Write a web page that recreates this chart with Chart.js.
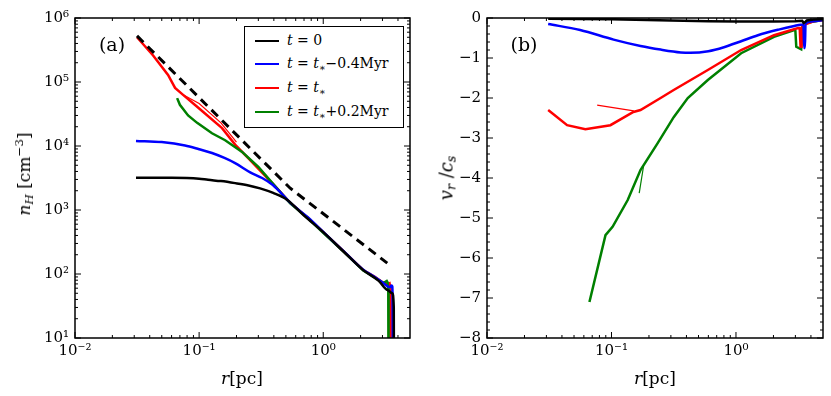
<!DOCTYPE html>
<html lang="en">
<head>
<meta charset="UTF-8" />
<title>Density and velocity profiles</title>
<style>
  * { box-sizing: border-box; margin: 0; padding: 0; }
  body { background: #fff; width: 831px; height: 396px; overflow: hidden; font-family: 'DejaVu Serif', serif; }
  #wrap { position: relative; width: 831px; height: 396px; }
  canvas { position: absolute; top: 0; }
  .lbl { position: absolute; color: #000; white-space: nowrap; font-family: 'DejaVu Serif', serif; }
  .rot { transform: translate(-50%, -50%) rotate(-90deg); }
  .ctr { transform: translate(-50%, -50%); }
  #legend { position: absolute; left: 244px; top: 26px; width: 160px; height: 102px;
            border: 1.5px solid #000; background: #fff; }
  .row { position: absolute; left: 0; width: 157px; height: 20px; }
  .row span.ln { position: absolute; left: 10px; top: 10px; width: 24px; height: 1.5px; }
  .row span.tx { position: absolute; left: 42px; top: 0; font-size: 14px; line-height: 20px; white-space: nowrap; }
  sub { font-size: 70%; vertical-align: -3px; line-height: 0; }
  sup { font-size: 70%; vertical-align: 7px; line-height: 0; }
</style>
<script src="https://cdn.jsdelivr.net/npm/chart.js"></script>
</head>
<body>
<div id="wrap">
  <canvas id="densChart" width="415" height="396" style="left:0"></canvas>
  <canvas id="velChart" width="416" height="396" style="left:415px"></canvas>

  <div class="lbl ctr" style="left:112px;top:44px;font-size:19px">(a)</div>
  <div class="lbl ctr" style="left:524px;top:44px;font-size:19px">(b)</div>

  <div class="lbl rot" style="left:24px;top:174px;font-size:17px"><i>n</i><sub><i>H</i></sub> [cm<sup>−3</sup>]</div>
  <div class="lbl rot" style="left:446px;top:178px;font-size:18px"><i>v</i><sub><i>r</i></sub> /<i>c</i><sub><i>s</i></sub></div>
  <div class="lbl ctr" style="left:242px;top:378px;font-size:17px"><i>r</i>[pc]</div>
  <div class="lbl ctr" style="left:655px;top:378px;font-size:17px"><i>r</i>[pc]</div>

  <div id="legend">
    <div class="row" style="top:3px"><span class="ln" style="background:#000"></span><span class="tx"><i>t</i> = 0</span></div>
    <div class="row" style="top:26px"><span class="ln" style="background:#0000ff"></span><span class="tx"><i>t</i> = <i>t</i><sub>∗</sub>−0.4Myr</span></div>
    <div class="row" style="top:50px"><span class="ln" style="background:#ff0000"></span><span class="tx"><i>t</i> = <i>t</i><sub>∗</sub></span></div>
    <div class="row" style="top:74px"><span class="ln" style="background:#008000"></span><span class="tx"><i>t</i> = <i>t</i><sub>∗</sub>+0.2Myr</span></div>
  </div>
</div>

<script>
  // ---- panel (a): n_H(r) ----
  const r_t0   = [0.031, 0.06, 0.1, 0.118, 0.15, 0.195, 0.25, 0.31, 0.395, 0.51, 0.7, 1.0, 1.5, 2.1, 2.8, 3.3, 3.6, 3.7, 3.72];
  const nH_t0  = [3200, 3190, 3080, 2960, 2830, 2630, 2420, 2180, 1850, 1450, 820, 450, 213, 115, 78, 56, 50, 30, 1];

  const r_m04  = [0.031, 0.05, 0.077, 0.1, 0.127, 0.16, 0.195, 0.258, 0.322, 0.388, 0.45, 0.542, 0.75, 1.0, 1.5, 2.1, 2.6, 3.05, 3.45, 3.55, 3.6, 3.62, 3.65];
  const nH_m04 = [1.2e4, 1.15e4, 1.02e4, 8900, 7760, 6500, 5400, 3880, 3160, 2500, 1900, 1300, 770, 455, 216, 117, 90, 72, 62, 66, 64, 40, 1];

  const r_ts   = [0.0316, 0.0426, 0.0562, 0.064, 0.0743, 0.0964, 0.153, 0.195, 0.267, 0.388, 0.542, 0.75, 1.0, 1.5, 2.1, 2.6, 3.05, 3.3, 3.42, 3.47, 3.49];
  const nH_ts  = [5.0e5, 2.6e5, 1.29e5, 8.1e4, 6.3e4, 4.1e4, 1.9e4, 1.05e4, 5620, 2630, 1290, 760, 450, 215, 115, 90, 73, 70, 72, 60, 1];
  const r_tsB  = [0.0743, 0.1, 0.15, 0.2];
  const nH_tsB = [6.3e4, 4.6e4, 2.3e4, 1.15e4];

  const r_p02  = [0.0665, 0.07, 0.0815, 0.0964, 0.127, 0.162, 0.222, 0.3, 0.388, 0.542, 0.75, 1.0, 1.5, 2.1, 2.6, 3.05, 3.25, 3.3, 3.34, 3.36];
  const nH_p02 = [5.6e4, 4.4e4, 3.0e4, 2.3e4, 1.58e4, 1.23e4, 8100, 4700, 2650, 1270, 750, 440, 212, 113, 88, 72, 78, 74, 60, 1];

  const r_fit  = [0.0316, 0.542, 3.28];
  const nH_fit = [5.25e5, 2190, 148];

  // ---- panel (b): v_r/c_s(r) ----
  const r_v0  = [0.031, 0.1, 0.3, 0.6, 1.0, 2.0, 3.0, 3.4, 3.5, 3.6, 3.7, 4.2, 5.0];
  const v_v0  = [-0.02, -0.03, -0.06, -0.08, -0.09, -0.09, -0.08, -0.07, -0.12, -0.1, -0.06, -0.04, -0.03];

  const r_vm04 = [0.031, 0.056, 0.104, 0.171, 0.248, 0.36, 0.43, 0.6, 0.8, 1.1, 1.5, 2.2, 2.94, 3.3, 3.48, 3.53, 3.58, 3.62, 4.2, 5.0];
  const v_vm04 = [-0.15, -0.3, -0.54, -0.7, -0.79, -0.86, -0.87, -0.83, -0.73, -0.58, -0.43, -0.29, -0.2, -0.17, -0.17, -0.75, -0.75, -0.13, -0.08, -0.05];

  const r_vts  = [0.031, 0.044, 0.0617, 0.098, 0.15, 0.171, 0.248, 0.316, 0.594, 1.1, 2.02, 3.16, 3.25, 3.3, 3.36, 3.42, 4.2, 5.0];
  const v_vts  = [-2.3, -2.68, -2.78, -2.68, -2.35, -2.3, -2.0, -1.8, -1.3, -0.8, -0.43, -0.25, -0.25, -0.72, -0.72, -0.18, -0.08, -0.05];
  const r_vtsB = [0.0767, 0.151];
  const v_vtsB = [-2.18, -2.32];

  const r_vp02 = [0.0665, 0.0895, 0.102, 0.135, 0.171, 0.235, 0.316, 0.41, 0.594, 1.1, 2.02, 2.94, 3.0, 3.05, 3.34, 3.42, 3.5, 4.0, 5.0];
  const v_vp02 = [-7.1, -5.43, -5.22, -4.55, -3.8, -3.13, -2.48, -2.0, -1.55, -0.88, -0.47, -0.3, -0.32, -0.72, -0.78, -0.2, -0.15, -0.1, -0.05];
  const r_vp02B = [0.167, 0.181];
  const v_vp02B = [-4.38, -3.7];

  // ticks
  const xTickVals = [0.01, 0.1, 1];
  const xTickText = ['10⁻²', '10⁻¹', '10⁰'];
  const nTickVals = [10, 100, 1e3, 1e4, 1e5, 1e6];
  const nTickText = ['10¹', '10²', '10³', '10⁴', '10⁵', '10⁶'];
  const vTickVals = [-8, -7, -6, -5, -4, -3, -2, -1, 0];
  const vTickText = ['−8', '−7', '−6', '−5', '−4', '−3', '−2', '−1', '0'];

  const pts = (xs, ys) => xs.map((x, i) => ({ x: x, y: ys[i] }));
  const line = (xs, ys, color, w, dash, smooth) => ({
    data: pts(xs, ys), borderColor: color, borderWidth: w, borderDash: dash || [],
    pointRadius: 0, fill: false, tension: 0,
    cubicInterpolationMode: smooth ? 'monotone' : 'default'
  });

  const tickFont = { family: 'DejaVu Serif', size: 15 };

  function logMinor(min, max) {
    const out = [];
    for (let d = Math.floor(Math.log10(min)); d <= Math.ceil(Math.log10(max)); d++) {
      for (let k = 2; k <= 9; k++) {
        const v = k * Math.pow(10, d);
        if (v > min && v < max) out.push(v);
      }
    }
    return out;
  }

  // frame with inward ticks on all four sides
  const framePlugin = {
    id: 'frame',
    afterDatasetsDraw(chart, args, opts) {
      const { ctx, chartArea: a, scales } = chart;
      const sx = scales.x, sy = scales.y;
      ctx.save();
      ctx.strokeStyle = '#000';
      ctx.lineWidth = 1;
      const tick = (px, len, vertical) => {
        ctx.beginPath();
        if (vertical) {
          ctx.moveTo(px, a.bottom); ctx.lineTo(px, a.bottom - len);
          ctx.moveTo(px, a.top); ctx.lineTo(px, a.top + len);
        } else {
          ctx.moveTo(a.left, px); ctx.lineTo(a.left + len, px);
          ctx.moveTo(a.right, px); ctx.lineTo(a.right - len, px);
        }
        ctx.stroke();
      };
      xTickVals.forEach(v => tick(sx.getPixelForValue(v), 6, true));
      logMinor(sx.min, sx.max).forEach(v => tick(sx.getPixelForValue(v), 3, true));
      opts.yMajor.forEach(v => tick(sy.getPixelForValue(v), 6, false));
      opts.yMinor.forEach(v => tick(sy.getPixelForValue(v), 3, false));
      ctx.lineWidth = 1.5;
      ctx.strokeRect(a.left, a.top, a.right - a.left, a.bottom - a.top);
      ctx.restore();
    }
  };

  function xScale() {
    return {
      type: 'logarithmic', min: 0.01, max: 5,
      afterBuildTicks: s => { s.ticks = xTickVals.map(v => ({ value: v })); },
      afterFit: s => { s.height = 58; },
      ticks: { callback: (v, i) => xTickText[i], font: tickFont, color: '#000', padding: 4, maxRotation: 0, autoSkip: false },
      grid: { display: false, drawTicks: false, tickLength: 0 },
      border: { display: false }
    };
  }

  new Chart(document.getElementById('densChart'), {
    type: 'line',
    data: {
      datasets: [
        line(r_fit, nH_fit, '#000', 3, [9, 6]),
        line(r_t0, nH_t0, '#000', 2.5, null, true),
        line(r_m04, nH_m04, '#0000ff', 2.5, null, true),
        line(r_p02, nH_p02, '#008000', 2.5),
        line(r_ts, nH_ts, '#ff0000', 2.5),
        line(r_tsB, nH_tsB, '#ff0000', 1.2)
      ]
    },
    options: {
      responsive: false, animation: false,
      layout: { padding: { top: 18, right: 5, left: 0, bottom: 0 } },
      plugins: {
        legend: { display: false }, tooltip: { enabled: false },
        frame: { yMajor: nTickVals, yMinor: logMinor(10, 1e6) }
      },
      scales: {
        x: xScale(),
        y: {
          type: 'logarithmic', min: 10, max: 1e6,
          afterBuildTicks: s => { s.ticks = nTickVals.map(v => ({ value: v })); },
          afterFit: s => { s.width = 75; },
          ticks: { callback: (v, i) => nTickText[i], font: tickFont, color: '#000', padding: 6, autoSkip: false },
          grid: { display: false, drawTicks: false, tickLength: 0 },
          border: { display: false }
        }
      }
    },
    plugins: [framePlugin]
  });

  const vMinor = [];
  for (let k = -40; k <= 0; k++) if (k % 5 !== 0) vMinor.push(k / 5);

  new Chart(document.getElementById('velChart'), {
    type: 'line',
    data: {
      datasets: [
        line(r_v0, v_v0, '#000', 2.5),
        line(r_vm04, v_vm04, '#0000ff', 2.5, null, true),
        line(r_vts, v_vts, '#ff0000', 2.5),
        line(r_vtsB, v_vtsB, '#ff0000', 1.2),
        line(r_vp02, v_vp02, '#008000', 2.5),
        line(r_vp02B, v_vp02B, '#008000', 1.2)
      ]
    },
    options: {
      responsive: false, animation: false,
      layout: { padding: { top: 18, right: 8, left: 0, bottom: 0 } },
      plugins: {
        legend: { display: false }, tooltip: { enabled: false },
        frame: { yMajor: vTickVals, yMinor: vMinor }
      },
      scales: {
        x: xScale(),
        y: {
          type: 'linear', min: -8, max: 0,
          afterBuildTicks: s => { s.ticks = vTickVals.map(v => ({ value: v })); },
          afterFit: s => { s.width = 72; },
          ticks: { callback: (v, i) => vTickText[i], font: tickFont, color: '#000', padding: 6, autoSkip: false },
          grid: { display: false, drawTicks: false, tickLength: 0 },
          border: { display: false }
        }
      }
    },
    plugins: [framePlugin]
  });
</script>
</body>
</html>
